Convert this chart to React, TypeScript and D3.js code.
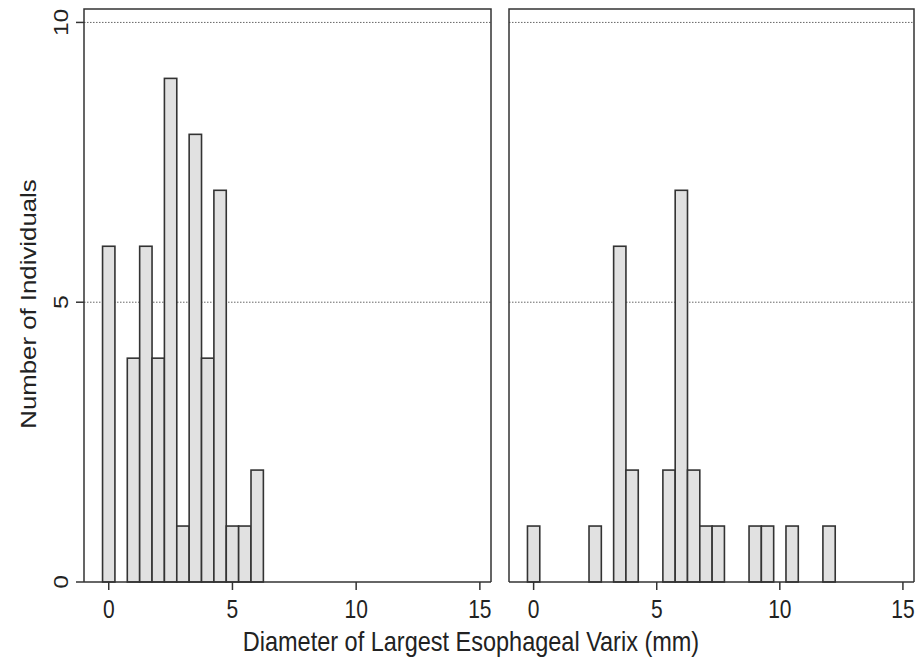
import React from 'react';
import * as d3 from 'd3';

// bin centres (mm) and counts
const leftBins = [0, 1, 1.5, 2, 2.5, 3, 3.5, 4, 4.5, 5, 5.5, 6];
const leftCounts = [6, 4, 6, 4, 9, 1, 8, 4, 7, 1, 1, 2];
const rightBins = [0, 2.5, 3.5, 4, 5.5, 6, 6.5, 7, 7.5, 9, 9.5, 10.5, 12];
const rightCounts = [1, 1, 6, 2, 2, 7, 2, 1, 1, 1, 1, 1, 1];
const xTicks = [0, 5, 10, 15];
const yTicks = [0, 5, 10];
const binWidth = 0.5;

const W = 920, H = 660;
const top = 9, bottom = 582;
const font = 'Liberation Sans, Arial, sans-serif';
const ink = '#333';
// the source image is a little stretched vertically, text included
const stretch = 1.2;

function Panel({ x0, x1, bins, counts, yAxis }: { x0: number; x1: number; bins: number[]; counts: number[]; yAxis: boolean }) {
    const x = d3.scaleLinear().domain([-1, 15.45]).range([x0, x1]);
    const y = d3.scaleLinear().domain([0, 10.24]).range([bottom, top]);

    return (
        <g>
            {/* dotted reference lines */}
            {yTicks.filter(t => t > 0).map(t => (
                <line key={t} x1={x0} x2={x1} y1={y(t)} y2={y(t)}
                    stroke="#666" strokeWidth={1} strokeDasharray="1.5,1.5" />
            ))}
            {bins.map((b, i) => (
                <rect key={i}
                    x={x(b - binWidth / 2)} y={y(counts[i])}
                    width={x(b + binWidth / 2) - x(b - binWidth / 2)}
                    height={y(0) - y(counts[i])}
                    fill="#e1e1e1" stroke={ink} strokeWidth={1.6} />
            ))}
            {/* frame: left, top, right; x axis at the bottom */}
            <path d={`M${x0},${bottom} V${top} H${x1} V${bottom}`} fill="none" stroke={ink} strokeWidth={1.5} />
            <line x1={x0} x2={x1} y1={bottom} y2={bottom} stroke={ink} strokeWidth={1.5} />
            {xTicks.map(t => (
                <g key={t}>
                    <line x1={x(t)} x2={x(t)} y1={bottom} y2={bottom + 8} stroke={ink} strokeWidth={1.5} />
                    <text transform={`translate(${x(t)},${bottom + 36}) scale(1,${stretch})`} textAnchor="middle"
                        fontSize={21} fontFamily={font} fill="#222">{t}</text>
                </g>
            ))}
            {yAxis && yTicks.map(t => (
                <g key={t}>
                    <line x1={x0 - 8} x2={x0} y1={y(t)} y2={y(t)} stroke={ink} strokeWidth={1.5} />
                    <text transform={`translate(${x0 - 16},${y(t)}) scale(1,${stretch}) rotate(-90)`} textAnchor="middle"
                        fontSize={20.5} fontFamily={font} fill="#222">{t}</text>
                </g>
            ))}
        </g>
    );
}

export default function App() {
    return (
        <svg width={W} height={H} style={{ position: 'absolute', left: 0, top: 0, background: '#fff' }}>
            <rect width={W} height={H} fill="#fff" />
            <Panel x0={84} x1={491} bins={leftBins} counts={leftCounts} yAxis={true} />
            <Panel x0={509} x1={914} bins={rightBins} counts={rightCounts} yAxis={false} />
            <text transform={`translate(471,651) scale(1,${stretch})`} textAnchor="middle" fontSize={23.5} fontFamily={font} fill="#222">
                Diameter of Largest Esophageal Varix (mm)
            </text>
            <text transform={`translate(36,304) scale(1,${stretch}) rotate(-90)`} textAnchor="middle" fontSize={21.5} fontFamily={font} fill="#222">
                Number of Individuals
            </text>
        </svg>
    );
}
